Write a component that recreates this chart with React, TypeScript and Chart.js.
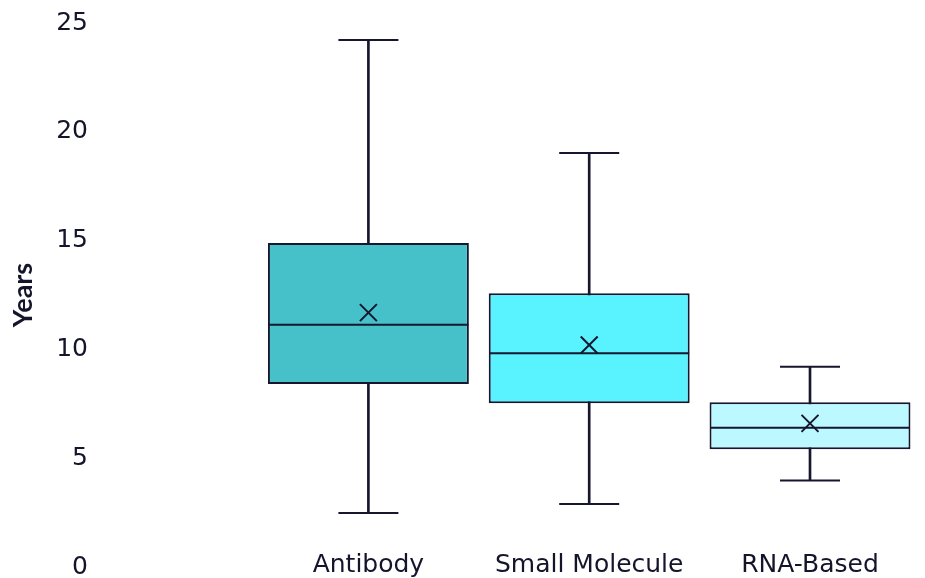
import React, { useEffect, useRef } from "react";
import { Chart, registerables } from "chart.js";

Chart.register(...registerables);

const categories = ["Antibody", "Small Molecule", "RNA-Based"];
const minValues = [2.48, 2.9, 3.97];
const q1Values = [8.41, 7.52, 5.41];
const medianValues = [11.13, 9.82, 6.4];
const q3Values = [14.89, 12.58, 7.57];
const maxValues = [24.22, 19.03, 9.2];
const meanValues = [11.69, 10.2, 6.6];
const yTicks = [0, 5, 10, 15, 20, 25];

const boxColors = ["#46C1C9", "#59F2FF", "#BBF8FF"];
const lineColor = "#16162E";
const textColor = "#14142B";

export default function App() {
  const canvasRef = useRef<HTMLCanvasElement | null>(null);

  useEffect(() => {
    document.body.style.margin = "0";
    const canvas = canvasRef.current;
    if (!canvas) return;
    const chart = new Chart(canvas, {
      type: "bar",
      data: {
        labels: categories,
        datasets: [
          {
            type: "bar",
            label: "whisker",
            data: minValues.map((m, i) => [m, maxValues[i]]),
            backgroundColor: lineColor,
            borderWidth: 0,
            barThickness: 2,
            grouped: false,
            order: 3,
          } as any,
          {
            type: "bar",
            label: "box",
            data: q1Values.map((q, i) => [q, q3Values[i]]),
            backgroundColor: boxColors,
            borderColor: lineColor,
            borderWidth: 2,
            borderSkipped: false,
            barPercentage: 0.91,
            categoryPercentage: 1,
            grouped: false,
            order: 2,
          } as any,
          {
            type: "line",
            label: "median",
            data: medianValues,
            showLine: false,
            pointStyle: "line",
            pointRadius: 100,
            pointBorderWidth: 2,
            pointBorderColor: lineColor,
            pointBackgroundColor: lineColor,
            order: 1,
          } as any,
          {
            type: "line",
            label: "max",
            data: maxValues,
            showLine: false,
            pointStyle: "line",
            pointRadius: 30,
            pointBorderWidth: 2,
            pointBorderColor: lineColor,
            order: 1,
            clip: false,
          } as any,
          {
            type: "line",
            label: "min",
            data: minValues,
            showLine: false,
            pointStyle: "line",
            pointRadius: 30,
            pointBorderWidth: 2,
            pointBorderColor: lineColor,
            order: 1,
          } as any,
          {
            type: "line",
            label: "mean",
            data: meanValues,
            showLine: false,
            pointStyle: "crossRot",
            pointRadius: 12,
            pointBorderWidth: 2,
            pointBorderColor: lineColor,
            order: 0,
          } as any,
        ],
      },
      options: {
        responsive: false,
        animation: false,
        events: [],
        layout: { autoPadding: false, padding: { top: 23, right: 4.6, bottom: 0, left: 0 } },
        plugins: {
          legend: { display: false },
          tooltip: { enabled: false },
        },
        scales: {
          x: {
            grid: { display: false, drawTicks: false },
            border: { display: false },
            ticks: {
              autoSkip: false,
              maxRotation: 0,
              mirror: true,
              padding: -13,
              color: textColor,
              font: { family: "'DejaVu Sans'", size: 25 },
            },
            afterFit: (scale: any) => {
              scale.height = 11;
              scale.paddingLeft = 0;
              scale.paddingRight = 0;
            },
          },
          y: {
            min: 0,
            max: 25,
            afterBuildTicks: (scale: any) => {
              scale.ticks = yTicks.map((v) => ({ value: v }));
            },
            grid: { display: false, drawTicks: true, tickLength: 160 },
            border: { display: false },
            ticks: {
              padding: 10,
              color: textColor,
              font: { family: "'DejaVu Sans'", size: 25 },
            },
            title: {
              display: true,
              text: "Years",
              color: textColor,
              padding: { top: 7, bottom: 0 },
              font: { family: "Lato", size: 27, weight: "bold" },
            },
            afterFit: (scale: any) => {
              scale.width = 258;
              scale.paddingTop = 0;
              scale.paddingBottom = 0;
            },
          },
        },
      } as any,
    });
    return () => chart.destroy();
  }, []);

  return (
    <div style={{ width: 925, height: 578, overflow: "hidden" }}>
      <canvas ref={canvasRef} width={925} height={578} />
    </div>
  );
}
